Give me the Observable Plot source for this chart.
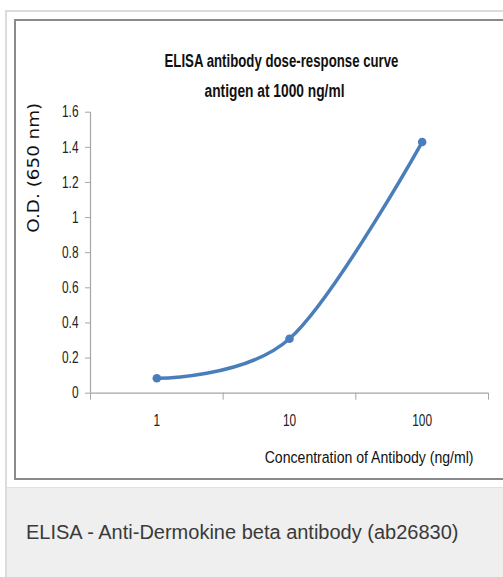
<!DOCTYPE html>
<html>
<head>
<meta charset="utf-8">
<script src="https://cdn.jsdelivr.net/npm/d3@7"></script>
<script src="https://cdn.jsdelivr.net/npm/@observablehq/plot@0.6"></script>
<style>
  html, body { margin: 0; padding: 0; width: 503px; height: 577px; overflow: hidden; background: #fff; }
  #outer { position: absolute; left: 5px; top: 10px; width: 560px; height: 580px; border-left: 2px solid #dcdcdc; border-top: 2px solid #dcdcdc; box-sizing: border-box; background: #fff; }
  #inner { position: absolute; left: 14px; top: 19px; width: 560px; height: 461px; border: 2px solid #8a8a8a; box-sizing: border-box; }
  #capbox { position: absolute; left: 7px; top: 487px; width: 560px; height: 100px; background: #eeefee; border-top: 1px solid #e2e2e2; }
  #caption { position: absolute; left: 26px; top: 522px; line-height: 20px; font-family: "Liberation Sans", Arial, sans-serif; font-size: 20px; color: #3a3a3a; white-space: nowrap; }
  #chart { position: absolute; left: 14px; top: 19px; }
</style>
</head>
<body>
<div id="outer"></div>
<div id="inner"></div>
<div id="capbox"></div>
<div id="caption">ELISA - Anti-Dermokine beta antibody (ab26830)</div>
<div id="chart"></div>
<script>
// ---- data ----
const concentrations = [1, 10, 100];          // ng/ml
const odValues = [0.085, 0.31, 1.43];           // O.D. (650 nm)
const xTickLabels = ["1", "10", "100"];
const yTicks = [0, 0.2, 0.4, 0.6, 0.8, 1, 1.2, 1.4, 1.6];
const yTickLabels = ["0", "0.2", "0.4", "0.6", "0.8", "1", "1.2", "1.4", "1.6"];
const categoryBounds = [Math.pow(10, -0.5), Math.pow(10, 0.5), Math.pow(10, 1.5), Math.pow(10, 2.5)];
const titleLines = ["ELISA antibody dose-response curve", "antigen at 1000 ng/ml"];
const xTitle = "Concentration of Antibody (ng/ml)";
const yTitle = "O.D. (650 nm)";

const data = concentrations.map((c, i) => ({c, od: odValues[i]}));

const sans = "'Liberation Sans', Arial, sans-serif";
const blue = "#4a7ebb";
const axisGray = "#a6a6a6";

const plot = Plot.plot({
  width: 489,
  height: 460,
  marginLeft: 76,
  marginRight: 15,
  marginTop: 92.7,
  marginBottom: 86.3,
  style: {background: "transparent", fontFamily: sans, fontSize: "16px", color: "#222", overflow: "visible"},
  x: {type: "log", domain: [categoryBounds[0], categoryBounds[3]]},
  y: {domain: [0, 1.6]},
  marks: [
    Plot.ruleY([0], {stroke: axisGray, strokeWidth: 1.2}),
    Plot.ruleX([categoryBounds[0]], {y1: 0, y2: 1.6, stroke: axisGray, strokeWidth: 1.2}),
    Plot.axisY({ticks: yTicks, tickFormat: d => yTickLabels[yTicks.indexOf(d)], tickSize: 5, tickPadding: 7, stroke: axisGray, fill: "#222", fontSize: 16, label: null}),
    Plot.axisX({ticks: categoryBounds, tickSize: 7, tickFormat: () => "", stroke: axisGray, label: null}),
    Plot.axisX({ticks: concentrations, tickSize: 0, tickPadding: 21, tickFormat: d => xTickLabels[concentrations.indexOf(d)], fill: "#222", fontSize: 16, label: null}),
    Plot.line(data, {x: "c", y: "od", curve: "cardinal", stroke: blue, strokeWidth: 3.5}),
    Plot.dot(data, {x: "c", y: "od", r: 4.3, fill: blue, stroke: null}),
    Plot.text([titleLines[0]], {frameAnchor: "top", dx: -8, dy: -50.8, lineAnchor: "middle", fontWeight: "bold", fontSize: 18.5, fill: "#111"}),
    Plot.text([titleLines[1]], {frameAnchor: "top", dx: -15, dy: -20.8, lineAnchor: "middle", fontWeight: "bold", fontSize: 18.5, fill: "#111"}),
    Plot.text([xTitle], {frameAnchor: "bottom-right", textAnchor: "end", dx: -15, dy: 64, lineAnchor: "middle", fontSize: 17, fill: "#111"}),
    Plot.text([yTitle], {frameAnchor: "left", rotate: -90, dx: -57, dy: -85, lineAnchor: "middle", textAnchor: "middle", fontSize: 16, fontFamily: "'DejaVu Sans', Verdana, sans-serif", fill: "#111"})
  ]
});
document.getElementById("chart").appendChild(plot);

// The reference picture is horizontally compressed: squeeze text along its direction.
function squeeze(t, sx) {
  const tr = t.getAttribute("transform") || "";
  t.setAttribute("transform", (tr + ` scale(${sx},1)`).trim());
}
const targetWidths = new Map([
  [titleLines[0], 234],
  [titleLines[1], 140],
  [xTitle, 209],
  [yTitle, 130]
]);
plot.querySelectorAll("text").forEach(t => {
  const s = t.textContent;
  if (targetWidths.has(s)) {
    squeeze(t, targetWidths.get(s) / t.getComputedTextLength());
  } else if (s && (yTickLabels.includes(s) || xTickLabels.includes(s))) {
    t.style.fontSize = "16.5px";
    squeeze(t, 0.72);
  }
});
</script>
</body>
</html>
